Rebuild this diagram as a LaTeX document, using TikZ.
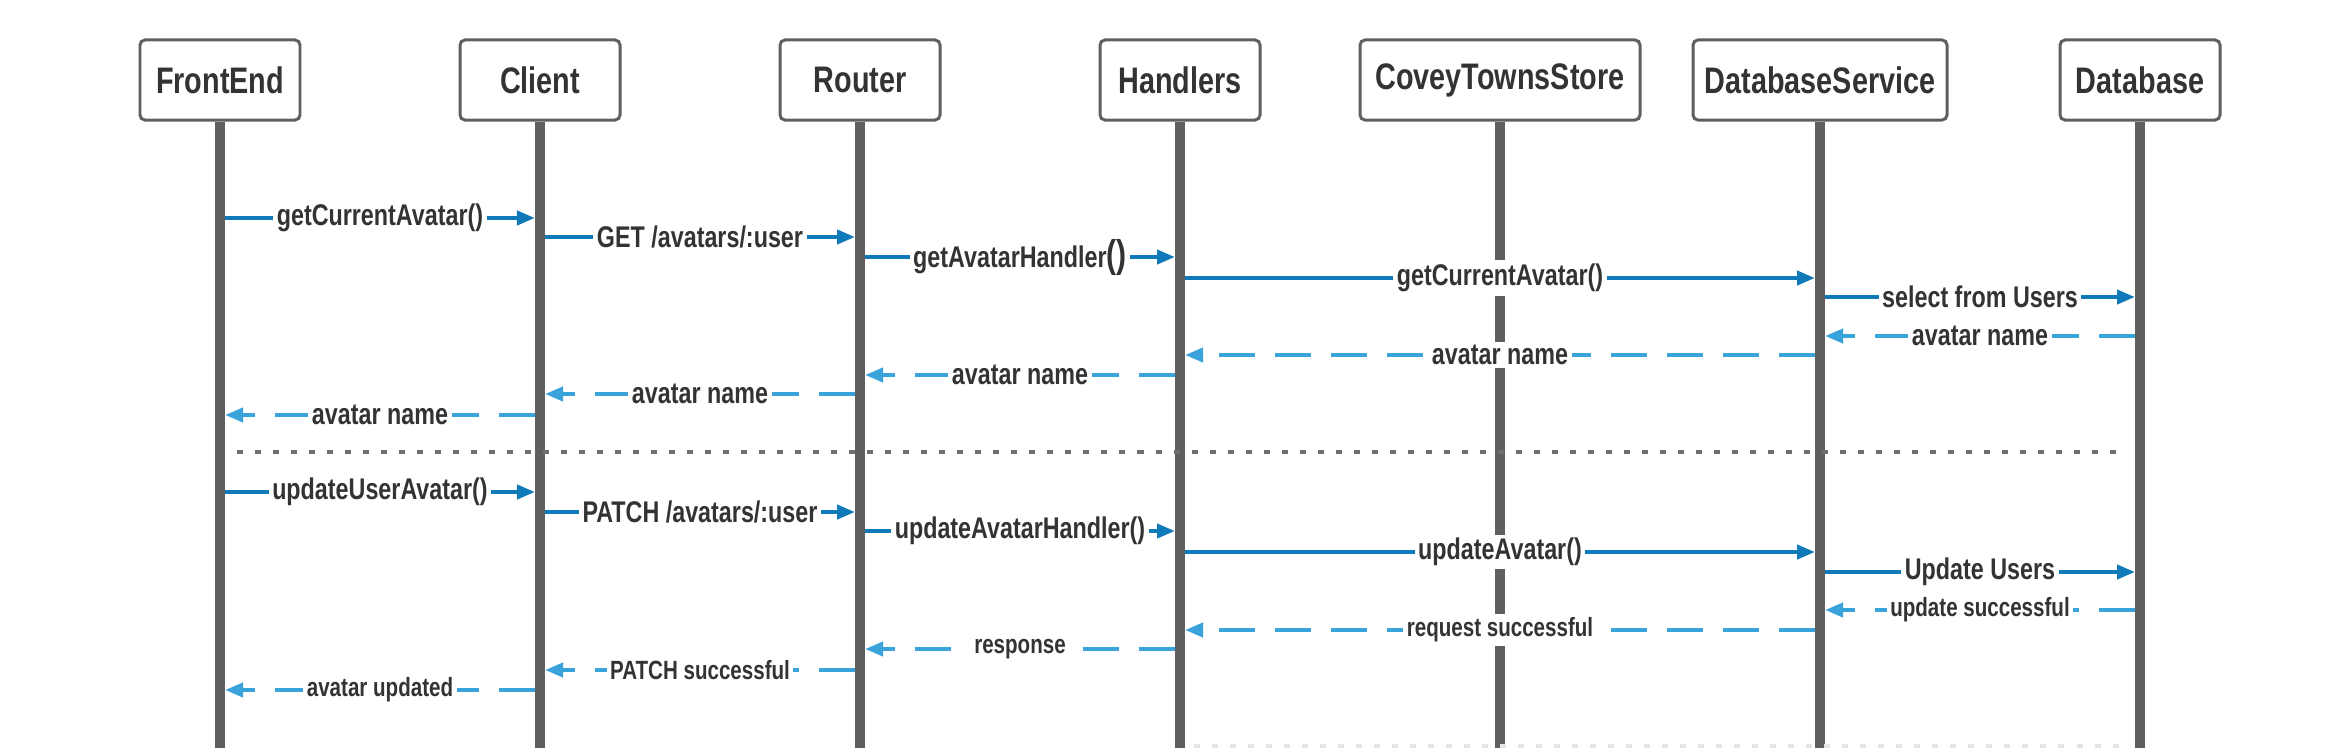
\documentclass[tikz,border=0pt]{standalone}
\usepackage{fontspec}
\usepackage{xcolor}
\usepackage{tikz}
\usetikzlibrary{positioning,calc,arrows.meta}

\newfontfamily\seqfont{Liberation Sans}[FakeStretch=0.78]

\definecolor{lifegray}{HTML}{5F5F5F}
\definecolor{callblue}{HTML}{1079B9}
\definecolor{retblue}{HTML}{3AA3DC}
\definecolor{txtgray}{HTML}{333333}

\tikzset{
    actor/.style={draw=lifegray, line width=0.85pt, rounded corners=0.05cm, fill=white,
        minimum height=0.8cm, text=txtgray, font=\seqfont\bfseries\fontsize{10.5}{12}\selectfont},
    lifeline/.style={draw=lifegray, line width=0.1cm},
    call/.style={draw=callblue, line width=0.04cm, shorten <=0.05cm, shorten >=0.05cm,
        -{Triangle[length=0.18cm,width=0.14cm]}},
    ret/.style={draw=retblue, line width=0.04cm, shorten <=0.05cm, shorten >=0.05cm,
        dash pattern=on 0.36cm off 0.2cm, -{Triangle[length=0.18cm,width=0.14cm]}},
    retsm/.style={ret},
    call lbl/.style={fill=white, inner xsep=1pt, inner ysep=1pt, text=txtgray,
        font=\seqfont\bfseries\fontsize{8.5}{9}\selectfont},
    ret lbl/.style={call lbl},
    retsm lbl/.style={call lbl, font=\seqfont\bfseries\fontsize{7.5}{8}\selectfont},
    divider/.style={draw=lifegray!90, line width=0.035cm, dash pattern=on 0.06cm off 0.12cm}
}

\begin{document}
\begin{tikzpicture}[x=0.01cm, y=-0.01cm]
    \useasboundingbox (0,0) rectangle (2340,748);

    % Actors and lifelines
    \foreach \x/\w/\id/\lbl in {220/160/fe/FrontEnd, 540/160/cl/Client, 860/160/rt/Router,
        1180/160/hd/Handlers, 1500/280/cts/CoveyTownsStore, 1820/240/dbs/DatabaseService,
        2140/160/db/Database}
    {
        \node[actor, minimum width=\w*0.01cm] (\id) at (\x,80) {\lbl};
        \draw[lifeline] (\id.south) -- (\id.south |- 0,748);
    }

    % Separator between the two calls
    \draw[divider] (237,452) -- (2127,452);
    \draw[divider, draw=black!10] (1194,746) -- (2130,746);

    % Messages
    \foreach \a/\b/\y/\sty/\txt in {
        fe/cl/218/call/getCurrentAvatar(),
        cl/rt/237/call/{GET /avatars/:user},
        rt/hd/257/call/{getAvatarHandler{\fontsize{11}{11}\selectfont()}},
        hd/dbs/278/call/getCurrentAvatar(),
        dbs/db/297/call/select from Users,
        db/dbs/336/ret/avatar name,
        dbs/hd/355/ret/avatar name,
        hd/rt/375/ret/avatar name,
        rt/cl/394/ret/avatar name,
        cl/fe/415/ret/avatar name,
        fe/cl/492/call/updateUserAvatar(),
        cl/rt/512/call/{PATCH /avatars/:user},
        rt/hd/531/call/updateAvatarHandler(),
        hd/dbs/552/call/updateAvatar(),
        dbs/db/572/call/Update Users,
        db/dbs/610/retsm/update successful,
        dbs/hd/630/retsm/request successful,
        hd/rt/649/retsm/response,
        rt/cl/670/retsm/PATCH successful,
        cl/fe/690/retsm/avatar updated}
        \draw[\sty] (\a |- 0,\y) -- node[\sty\space lbl] {\txt} (\b |- 0,\y);
\end{tikzpicture}
\end{document}
